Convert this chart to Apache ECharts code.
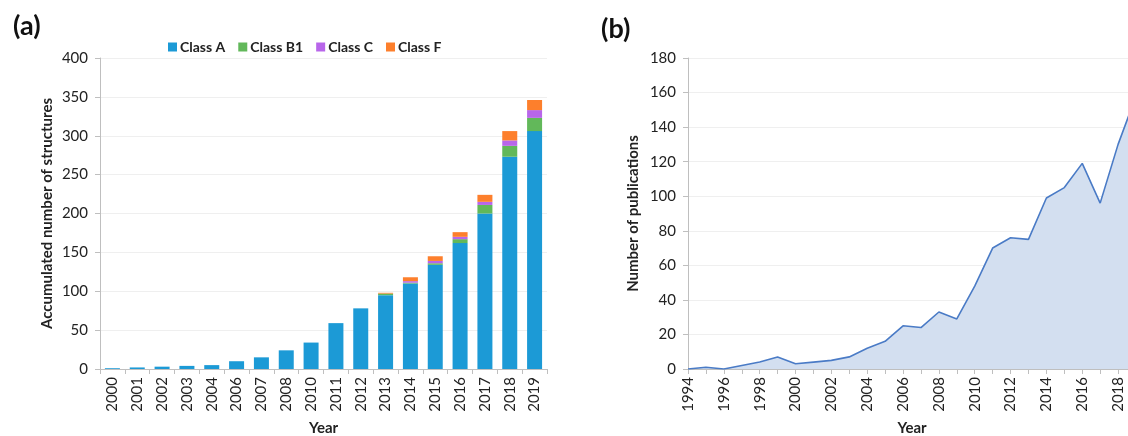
<!DOCTYPE html>
<html>
<head>
<meta charset="utf-8">
<script src="https://cdn.jsdelivr.net/npm/echarts@6/dist/echarts.min.js"></script>
<style>
  html, body { margin: 0; padding: 0; background: #fff; }
  #chart { width: 1128px; height: 436px; }
</style>
</head>
<body>
<div id="chart"></div>
<script>
// (a) accumulated number of structures per class
const structYears = ['2000','2001','2002','2003','2004','2006','2007','2008','2010','2011','2012','2013','2014','2015','2016','2017','2018','2019'];
const classA  = [1, 2, 3, 4, 5, 10, 15, 24, 34, 59, 78, 95, 110, 134, 162, 200, 273, 306];
const classB1 = [0, 0, 0, 0, 0, 0, 0, 0, 0, 0, 0, 2, 1, 2, 5, 11, 14, 17];
const classC  = [0, 0, 0, 0, 0, 0, 0, 0, 0, 0, 0, 0, 2, 3, 3, 4, 7, 10];
const classF  = [0, 0, 0, 0, 0, 0, 0, 0, 0, 0, 0, 1, 5, 6, 6, 9, 12, 13];

// (b) number of publications per year
const pubYears = ['1994','1995','1996','1997','1998','1999','2000','2001','2002','2003','2004','2005','2006',
                  '2007','2008','2009','2010','2011','2012','2013','2014','2015','2016','2017','2018','2019'];
const pubCounts = [0, 1, 0, 2, 4, 7, 3, 4, 5, 7, 12, 16, 25, 24, 33, 29, 48, 70, 76, 75, 99, 105, 119, 96, 130, 158];

const FONT = 'Lato, "Open Sans", sans-serif';
const TXT = '#222';
const AXIS = '#bfbfbf';
const GRIDLINE = '#efefef';

const classColors = { 'Class A': '#1c9ad6', 'Class B1': '#62b85a', 'Class C': '#b866ea', 'Class F': '#fd7f2c' };

function barSeries(name, data) {
  return {
    name, type: 'bar', stack: 'total', data,
    xAxisIndex: 0, yAxisIndex: 0,
    barWidth: 15,
    itemStyle: { color: classColors[name] },
    emphasis: { disabled: true }
  };
}

const tickLabel = { fontSize: 15, color: TXT, fontFamily: FONT };
const axisTitle = { fontFamily: FONT, fontSize: 15, fontWeight: 'bold', color: TXT };

const chart = echarts.init(document.getElementById('chart'), null, { renderer: 'canvas' });

chart.setOption({
  animation: false,
  textStyle: { fontFamily: FONT },
  title: [
    { text: '(a)', left: 8, top: 8, textStyle: { fontFamily: FONT, fontSize: 27, fontWeight: 'bold', color: '#111' } },
    { text: '(b)', left: 596, top: 11, textStyle: { fontFamily: FONT, fontSize: 27, fontWeight: 'bold', color: '#111' } }
  ],
  legend: {
    left: 163, top: 35,
    itemWidth: 9, itemHeight: 9, itemGap: 13,
    icon: 'rect',
    textStyle: { fontFamily: FONT, fontSize: 14, fontWeight: 'bold', color: TXT, padding: [0, 0, 0, -2] },
    data: ['Class A', 'Class B1', 'Class C', 'Class F']
  },
  grid: [
    { left: 100, top: 58, width: 447, bottom: 67, outerBoundsMode: 'none' },
    { left: 688, top: 58, right: -8, bottom: 67, outerBoundsMode: 'none' }
  ],
  xAxis: [
    {
      gridIndex: 0, type: 'category', data: structYears,
      name: 'Year', nameLocation: 'middle', nameGap: 52,
      nameTextStyle: axisTitle,
      axisLine: { lineStyle: { color: AXIS } },
      axisTick: { show: true, length: 5, lineStyle: { color: AXIS } },
      axisLabel: Object.assign({ rotate: 90, margin: 8, interval: 0 }, tickLabel)
    },
    {
      gridIndex: 1, type: 'category', data: pubYears, boundaryGap: false,
      name: 'Year', nameLocation: 'middle', nameGap: 52,
      nameTextStyle: axisTitle,
      axisLine: { lineStyle: { color: AXIS } },
      axisTick: { show: true, length: 5, interval: 0, lineStyle: { color: AXIS } },
      axisLabel: Object.assign({ rotate: 90, margin: 8, interval: 1 }, tickLabel)
    }
  ],
  yAxis: [
    {
      gridIndex: 0, type: 'value', min: 0, max: 400, interval: 50,
      name: 'Accumulated number of structures', nameLocation: 'middle', nameGap: 45,
      nameTextStyle: axisTitle,
      axisLine: { show: true, lineStyle: { color: AXIS } },
      axisTick: { show: true, length: 5, lineStyle: { color: AXIS } },
      axisLabel: Object.assign({ margin: 12 }, tickLabel),
      splitLine: { show: true, lineStyle: { color: GRIDLINE } }
    },
    {
      gridIndex: 1, type: 'value', min: 0, max: 180, interval: 20,
      name: 'Number of publications', nameLocation: 'middle', nameGap: 47,
      nameTextStyle: axisTitle,
      axisLine: { show: true, lineStyle: { color: AXIS } },
      axisTick: { show: true, length: 5, lineStyle: { color: AXIS } },
      axisLabel: Object.assign({ margin: 12 }, tickLabel),
      splitLine: { show: true, lineStyle: { color: GRIDLINE } }
    }
  ],
  series: [
    barSeries('Class A', classA),
    barSeries('Class B1', classB1),
    barSeries('Class C', classC),
    barSeries('Class F', classF),
    {
      name: 'Publications', type: 'line', data: pubCounts,
      xAxisIndex: 1, yAxisIndex: 1,
      showSymbol: false, symbol: 'none',
      lineStyle: { color: '#4a7bc6', width: 1.6 },
      areaStyle: { color: '#d3dff0', opacity: 1 },
      emphasis: { disabled: true }
    }
  ]
});
</script>
</body>
</html>
